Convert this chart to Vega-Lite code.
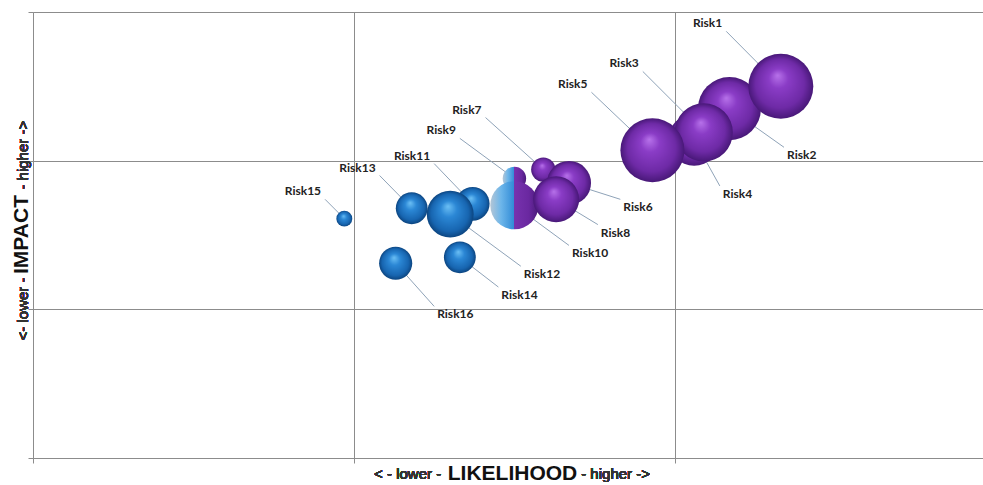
{
  "$schema": "https://vega.github.io/schema/vega-lite/v6.json",
  "width": 950,
  "height": 446,
  "autosize": {"type": "none"},
  "padding": {"left": 33, "top": 12, "right": 0, "bottom": 27},
  "background": "white",
  "config": {
    "view": {"stroke": null},
    "axis": {
      "grid": true, "gridColor": "#8c8c8c", "gridWidth": 1, "gridOpacity": 1,
      "domainColor": "#8c8c8c", "domainWidth": 1,
      "tickColor": "#8c8c8c", "tickSize": 5, "tickWidth": 1,
      "labels": false,
      "titleFont": "Liberation Sans", "titleFontWeight": "bold", "titleFontSize": 21, "titleColor": "#111111",
      "titleBaseline": "alphabetic", "titleAlign": "center"
    }
  },
  "data": {
    "values": [
      {"risk": "Risk15", "group": "blue", "likelihood": 0.97, "impact": 1.61, "size": 6, "labelX": 0.91, "labelY": 1.74, "side": "UL"},
      {"risk": "Risk16", "group": "blue", "likelihood": 1.13, "impact": 1.31, "size": 26, "labelX": 1.25, "labelY": 1.02, "side": "LR"},
      {"risk": "Risk14", "group": "blue", "likelihood": 1.33, "impact": 1.35, "size": 24, "labelX": 1.45, "labelY": 1.15, "side": "LR"},
      {"risk": "Risk11", "group": "blue", "likelihood": 1.37, "impact": 1.71, "size": 27, "labelX": 1.25, "labelY": 1.98, "side": "UL"},
      {"risk": "Risk13", "group": "blue", "likelihood": 1.18, "impact": 1.68, "size": 24, "labelX": 1.08, "labelY": 1.90, "side": "UL"},
      {"risk": "Risk12", "group": "blue", "likelihood": 1.30, "impact": 1.64, "size": 52, "labelX": 1.52, "labelY": 1.29, "side": "LR"},
      {"risk": "Risk9", "group": "split", "likelihood": 1.50, "impact": 1.88, "size": 13, "labelX": 1.33, "labelY": 2.15, "side": "UL"},
      {"risk": "Risk10", "group": "split", "likelihood": 1.50, "impact": 1.70, "size": 55, "labelX": 1.67, "labelY": 1.43, "side": "LR"},
      {"risk": "Risk7", "group": "purple", "likelihood": 1.59, "impact": 1.94, "size": 14, "labelX": 1.41, "labelY": 2.29, "side": "UL"},
      {"risk": "Risk6", "group": "purple", "likelihood": 1.67, "impact": 1.85, "size": 46, "labelX": 1.83, "labelY": 1.74, "side": "LR"},
      {"risk": "Risk8", "group": "purple", "likelihood": 1.63, "impact": 1.74, "size": 50, "labelX": 1.76, "labelY": 1.57, "side": "LR"},
      {"risk": "Risk2", "group": "purple", "likelihood": 2.17, "impact": 2.35, "size": 94, "labelX": 2.34, "labelY": 2.09, "side": "LR"},
      {"risk": "Risk1", "group": "purple", "likelihood": 2.33, "impact": 2.50, "size": 100, "labelX": 2.16, "labelY": 2.87, "side": "UL"},
      {"risk": "Risk4", "group": "purple", "likelihood": 2.06, "impact": 2.14, "size": 64, "labelX": 2.14, "labelY": 1.83, "side": "LR"},
      {"risk": "Risk3", "group": "purple", "likelihood": 2.09, "impact": 2.19, "size": 80, "labelX": 1.90, "labelY": 2.60, "side": "UL"},
      {"risk": "Risk5", "group": "purple", "likelihood": 1.93, "impact": 2.07, "size": 97, "labelX": 1.74, "labelY": 2.46, "side": "UL"}
    ]
  },
  "layer": [
    {
      "mark": {"type": "rule", "color": "#8fa3b8", "strokeWidth": 1},
      "encoding": {
        "x": {"field": "labelX", "type": "quantitative", "title": "LIKELIHOOD",
              "scale": {"domain": [0, 2.96], "nice": false, "zero": false},
              "axis": {"values": [0, 1, 2], "title": "LIKELIHOOD", "titlePadding": 16, "titleX": 479}},
        "y": {"field": "labelY", "type": "quantitative", "title": "IMPACT",
              "scale": {"domain": [0, 3], "nice": false, "zero": false},
              "axis": {"values": [0, 1, 2, 3], "title": "IMPACT", "titlePadding": 0, "titleY": 222}},
        "x2": {"field": "likelihood"},
        "y2": {"field": "impact"}
      }
    },
    {
      "transform": [{"filter": "datum.group === 'blue'"}],
      "mark": {"type": "point", "shape": "circle", "filled": true, "opacity": 1, "strokeWidth": 0,
               "fill": {"gradient": "radial", "x1": 0.45, "y1": 0.33, "r1": 0, "x2": 0.5, "y2": 0.5, "r2": 0.5,
                        "stops": [{"offset": 0, "color": "#6cc0f5"}, {"offset": 0.35, "color": "#2b87d5"}, {"offset": 0.8, "color": "#1765b0"}, {"offset": 1, "color": "#0c4580"}]}},
      "encoding": {
        "x": {"field": "likelihood", "type": "quantitative", "title": "LIKELIHOOD"},
        "y": {"field": "impact", "type": "quantitative", "title": "IMPACT"},
        "size": {"field": "size", "type": "quantitative", "scale": {"domain": [0, 100], "range": [0, 4225]}, "legend": null}
      }
    },
    {
      "transform": [{"filter": "datum.group === 'split'"}],
      "mark": {"type": "point", "shape": "circle", "filled": true, "opacity": 1, "strokeWidth": 0,
               "fill": {"gradient": "linear", "x1": 0, "y1": 0, "x2": 1, "y2": 0,
                        "stops": [{"offset": 0, "color": "#b4c6d6"}, {"offset": 0.22, "color": "#6db6ea"}, {"offset": 0.5, "color": "#2f8ad6"}, {"offset": 0.5, "color": "#7732ae"}, {"offset": 0.8, "color": "#6a28a0"}, {"offset": 1, "color": "#4a1a7a"}]}},
      "encoding": {
        "x": {"field": "likelihood", "type": "quantitative", "title": "LIKELIHOOD"},
        "y": {"field": "impact", "type": "quantitative", "title": "IMPACT"},
        "size": {"field": "size", "type": "quantitative", "scale": {"domain": [0, 100], "range": [0, 4225]}, "legend": null}
      }
    },
    {
      "transform": [{"filter": "datum.group === 'purple'"}],
      "mark": {"type": "point", "shape": "circle", "filled": true, "opacity": 1, "strokeWidth": 0,
               "fill": {"gradient": "radial", "x1": 0.45, "y1": 0.33, "r1": 0, "x2": 0.5, "y2": 0.5, "r2": 0.5,
                        "stops": [{"offset": 0, "color": "#b772ea"}, {"offset": 0.3, "color": "#8a3cc6"}, {"offset": 0.75, "color": "#6e2aa6"}, {"offset": 1, "color": "#481878"}]}},
      "encoding": {
        "x": {"field": "likelihood", "type": "quantitative", "title": "LIKELIHOOD"},
        "y": {"field": "impact", "type": "quantitative", "title": "IMPACT"},
        "size": {"field": "size", "type": "quantitative", "scale": {"domain": [0, 100], "range": [0, 4225]}, "legend": null}
      }
    },
    {
      "transform": [{"filter": "datum.side === 'UL'"}],
      "mark": {"type": "text", "font": "Lato", "fontWeight": "bold", "fontSize": 12, "color": "#222222",
               "align": "right", "baseline": "alphabetic", "dx": -4, "dy": -4},
      "encoding": {
        "x": {"field": "labelX", "type": "quantitative", "title": "LIKELIHOOD"},
        "y": {"field": "labelY", "type": "quantitative", "title": "IMPACT"},
        "text": {"field": "risk"}
      }
    },
    {
      "transform": [{"filter": "datum.side === 'LR'"}],
      "mark": {"type": "text", "font": "Lato", "fontWeight": "bold", "fontSize": 12, "color": "#222222",
               "align": "left", "baseline": "alphabetic", "dx": 3, "dy": 12},
      "encoding": {
        "x": {"field": "labelX", "type": "quantitative", "title": "LIKELIHOOD"},
        "y": {"field": "labelY", "type": "quantitative", "title": "IMPACT"},
        "text": {"field": "risk"}
      }
    },
    {
      "mark": {"type": "text", "font": "Liberation Sans", "fontWeight": "normal", "fontSize": 15, "color": "#333333", "align": "right", "baseline": "alphabetic",
               "dx": -70, "dy": 21, "text": "< - lower -"},
      "encoding": {"x": {"datum": 1.49, "type": "quantitative", "title": "LIKELIHOOD"}, "y": {"datum": 0, "type": "quantitative", "title": "IMPACT"}}
    },
    {
      "mark": {"type": "text", "font": "Liberation Sans", "fontWeight": "normal", "fontSize": 15, "color": "#333333", "align": "left", "baseline": "alphabetic",
               "dx": 70, "dy": 21, "text": "- higher ->"},
      "encoding": {"x": {"datum": 1.49, "type": "quantitative", "title": "LIKELIHOOD"}, "y": {"datum": 0, "type": "quantitative", "title": "IMPACT"}}
    },
    {
      "mark": {"type": "text", "font": "Liberation Sans", "fontWeight": "normal", "fontSize": 15, "color": "#333333", "align": "right", "baseline": "alphabetic",
               "angle": 270, "dx": -44, "dy": -5, "text": "<- lower -"},
      "encoding": {"x": {"datum": 0, "type": "quantitative", "title": "LIKELIHOOD"}, "y": {"datum": 1.51, "type": "quantitative", "title": "IMPACT"}}
    },
    {
      "mark": {"type": "text", "font": "Liberation Sans", "fontWeight": "normal", "fontSize": 15, "color": "#333333", "align": "left", "baseline": "alphabetic",
               "angle": 270, "dx": 44, "dy": -5, "text": "- higher ->"},
      "encoding": {"x": {"datum": 0, "type": "quantitative", "title": "LIKELIHOOD"}, "y": {"datum": 1.51, "type": "quantitative", "title": "IMPACT"}}
    }
  ]
}
